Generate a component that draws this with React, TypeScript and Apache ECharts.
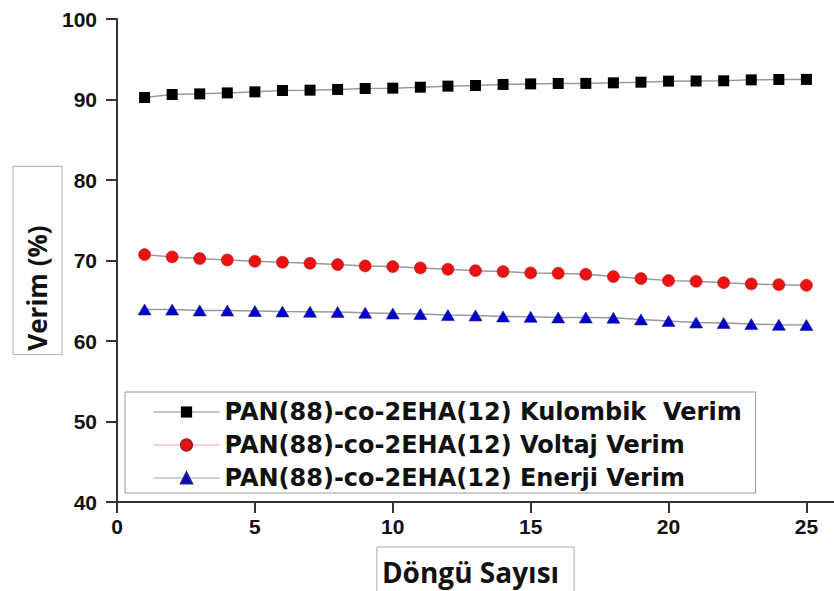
import React, { useEffect, useRef } from "react";
import * as echarts from "echarts";

const cycles = [1, 2, 3, 4, 5, 6, 7, 8, 9, 10, 11, 12, 13, 14, 15, 16, 17, 18, 19, 20, 21, 22, 23, 24, 25];
const kulombik = [90.25, 90.62, 90.7, 90.82, 90.95, 91.12, 91.16, 91.25, 91.37, 91.41, 91.53, 91.66, 91.74, 91.87, 91.94, 91.99, 92.0, 92.07, 92.15, 92.28, 92.3, 92.32, 92.44, 92.49, 92.5];
const voltaj = [70.73, 70.45, 70.24, 70.07, 69.9, 69.78, 69.65, 69.49, 69.33, 69.24, 69.08, 68.91, 68.74, 68.62, 68.46, 68.41, 68.28, 68.0, 67.75, 67.5, 67.41, 67.25, 67.09, 67.0, 66.91];
const enerji = [63.92, 63.9, 63.8, 63.78, 63.72, 63.67, 63.64, 63.6, 63.51, 63.42, 63.35, 63.22, 63.18, 63.05, 63.01, 62.93, 62.92, 62.89, 62.68, 62.48, 62.3, 62.23, 62.1, 62.02, 62.0];
const xTicks = [0, 5, 10, 15, 20, 25];
const seriesNames = [
  "PAN(88)-co-2EHA(12) Kulombik  Verim",
  "PAN(88)-co-2EHA(12) Voltaj Verim",
  "PAN(88)-co-2EHA(12) Enerji Verim",
];
const xName = "Döngü Sayısı";
const yName = "Verim (%)";

export default function App() {
  const ref = useRef<HTMLDivElement>(null);
  useEffect(() => {
    if (!ref.current) return;
    const chart = echarts.init(ref.current, null, { renderer: "svg" });
    const pairs = (ys: number[]) => cycles.map((c, i) => [c, ys[i]]);
    const tickFont = { fontFamily: "Liberation Sans", fontWeight: "bold" as const, fontSize: 21, color: "#111" };
    const lineGray = { color: "#999", width: 1.5 };
    chart.setOption({
      animation: false,
      backgroundColor: "#fff",
      grid: { left: 117, top: 19, right: 0, bottom: 89, containLabel: false, outerBoundsMode: "none" },
      xAxis: {
        type: "value",
        min: 0,
        max: 26,
        interval: 5,
        name: xName,
        nameLocation: "middle",
        nameGap: 45,
        nameMoveOverlap: false,
        nameTextStyle: {
          fontFamily: "Open Sans",
          fontWeight: "bold",
          fontSize: 28,
          color: "#111",
          borderColor: "#aaa",
          borderWidth: 1,
          padding: [11, 15, 16, 5],
        },
        axisLine: { show: true, onZero: false, lineStyle: { color: "#333", width: 2 } },
        axisTick: { show: true, inside: false, length: 11, customValues: xTicks, lineStyle: { color: "#333", width: 2 } },
        axisLabel: { ...tickFont, margin: 14, customValues: xTicks },
        splitLine: { show: false },
      },
      yAxis: {
        type: "value",
        min: 40,
        max: 100,
        interval: 10,
        name: yName,
        nameLocation: "middle",
        nameRotate: 90,
        nameGap: 55,
        nameMoveOverlap: false,
        nameTextStyle: {
          fontFamily: "Open Sans",
          fontWeight: "bold",
          fontSize: 26,
          color: "#111",
          borderColor: "#aaa",
          borderWidth: 1,
          padding: [11, 59, 12, 4],
        },
        axisLine: { show: true, onZero: false, lineStyle: { color: "#333", width: 2 } },
        axisTick: { show: true, inside: false, length: 11, lineStyle: { color: "#333", width: 2 } },
        axisLabel: { ...tickFont, margin: 20 },
        splitLine: { show: false },
      },
      legend: {
        left: 125,
        top: 392,
        orient: "vertical",
        itemWidth: 66,
        itemHeight: 14,
        itemGap: 9,
        padding: [8, 14, 3, 28],
        borderColor: "#999",
        borderWidth: 1,
        textStyle: { fontFamily: "DejaVu Sans", fontWeight: "bold", fontSize: 24, color: "#111" },
        data: [
          { name: seriesNames[0], lineStyle: { color: "#888", width: 1 } },
          { name: seriesNames[1], lineStyle: { color: "#f4a0a0", width: 1 } },
          { name: seriesNames[2], lineStyle: { color: "#a0a0d8", width: 1 } },
        ],
      },
      series: [
        {
          name: seriesNames[0],
          type: "line",
          data: pairs(kulombik),
          symbol: "rect",
          symbolSize: 11,
          itemStyle: { color: "#000" },
          lineStyle: lineGray,
        },
        {
          name: seriesNames[1],
          type: "line",
          data: pairs(voltaj),
          symbol: "circle",
          symbolSize: 12,
          itemStyle: { color: "#ee1111", borderColor: "#a52020", borderWidth: 0.6 },
          lineStyle: lineGray,
        },
        {
          name: seriesNames[2],
          type: "line",
          data: pairs(enerji),
          symbol: "triangle",
          symbolSize: [13, 11],
          itemStyle: { color: "#0000cc", borderColor: "#202080", borderWidth: 0.6 },
          lineStyle: lineGray,
        },
      ],
    });
    return () => chart.dispose();
  }, []);
  return <div ref={ref} style={{ position: "fixed", left: 0, top: 0, width: 834, height: 591 }} />;
}
